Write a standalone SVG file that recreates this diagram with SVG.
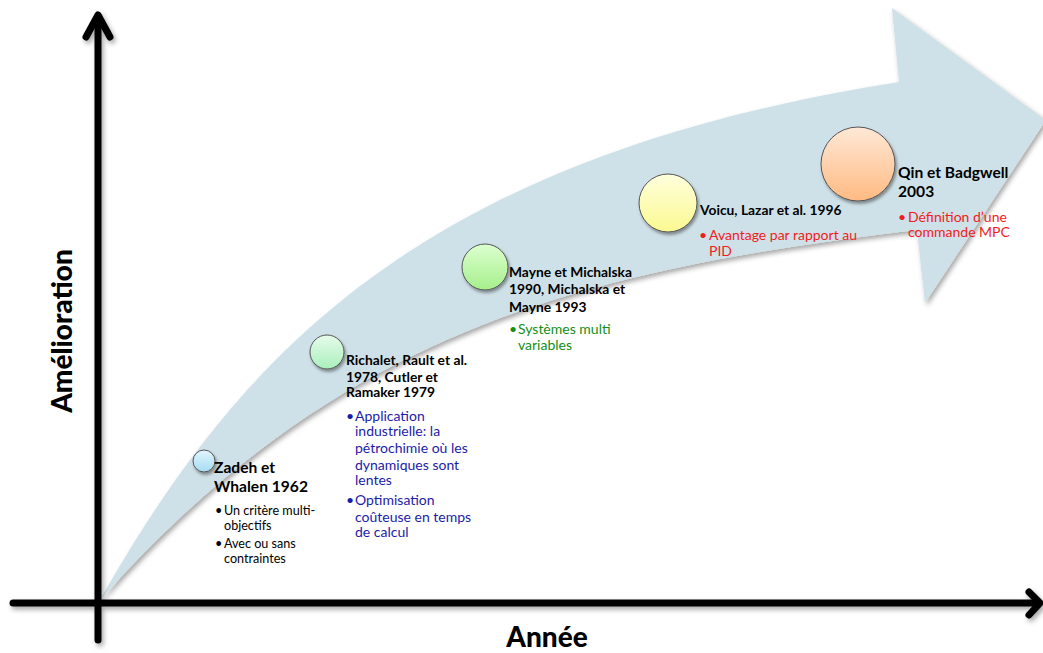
<svg xmlns="http://www.w3.org/2000/svg" width="1043" height="653" viewBox="0 0 1043 653">
<defs>
<filter id="sh" x="-10%" y="-10%" width="130%" height="130%"><feDropShadow dx="2" dy="3" stdDeviation="2.5" flood-color="#000" flood-opacity="0.35"/></filter>
<filter id="csh" x="-30%" y="-30%" width="170%" height="170%"><feDropShadow dx="1.5" dy="2.5" stdDeviation="1.8" flood-color="#000" flood-opacity="0.4"/></filter>
<linearGradient id="gBlue" x1="0" y1="0" x2="0" y2="1"><stop offset="0" stop-color="#e2f5fd"/><stop offset="1" stop-color="#a6dcf3"/></linearGradient>
<linearGradient id="gMint" x1="0" y1="0" x2="0" y2="1"><stop offset="0" stop-color="#e6fcea"/><stop offset="1" stop-color="#aaefbc"/></linearGradient>
<linearGradient id="gGreen" x1="0" y1="0" x2="0" y2="1"><stop offset="0" stop-color="#dcffcf"/><stop offset="1" stop-color="#a6ef8c"/></linearGradient>
<linearGradient id="gYellow" x1="0" y1="0" x2="0" y2="1"><stop offset="0" stop-color="#ffffdc"/><stop offset="1" stop-color="#fbf991"/></linearGradient>
<linearGradient id="gPeach" x1="0" y1="0" x2="0" y2="1"><stop offset="0" stop-color="#ffe8d6"/><stop offset="1" stop-color="#ffba82"/></linearGradient>
</defs>
<style>
.t{font-family:Lato,"Liberation Sans",sans-serif;font-weight:bold;font-size:13.8px;fill:#000}
.tb{font-size:15.6px}
.b{font-family:Lato,"Liberation Sans",sans-serif;font-size:14px}
.blk{fill:#000;font-size:12.6px}
.blu{fill:#1c1ca8}
.grn{fill:#13901a}
.red{fill:#f21c1c}
.node{stroke:#555;stroke-width:1}
.axis{fill:none;stroke:#000;stroke-width:7;stroke-linecap:round;stroke-linejoin:round}
.lab{font-family:Lato,"Liberation Sans",sans-serif;font-weight:900;font-size:28px;fill:#000}
</style>
<g id="big-arrow">
<path d="M100,600 C240,353 422,157 899,82 L892,8 L1046,120 L925,303 L917,230 C582,270 340,330 100,600 Z" fill="#cfe1e8" filter="url(#sh)"/>
</g>
<g id="connectors">
<g filter="url(#sh)">
<path class="axis" d="M98,640 V18"/>
<path class="axis" d="M86,37 L98,15 L110,37"/>
<path class="axis" d="M13,603 H1038"/>
<path class="axis" d="M1029,592 L1040,603 L1029,615"/>
</g>
</g>
<g id="label-y"><text class="lab" transform="translate(72,331) rotate(-90)" text-anchor="middle">Amélioration</text></g>
<g id="label-x"><text class="lab" x="547" y="647" text-anchor="middle">Année</text></g>
<g id="zadeh">
<circle class="node" cx="204" cy="461" r="11" fill="url(#gBlue)" filter="url(#csh)"/>
<text class="t tb" x="214" y="473">Zadeh et</text>
<text class="t tb" x="214" y="492">Whalen 1962</text>
<text class="b blk"><tspan x="215" y="515">•</tspan><tspan x="224" y="515">Un critère multi-</tspan><tspan x="224" y="530">objectifs</tspan><tspan x="215" y="548">•</tspan><tspan x="224" y="548">Avec ou sans</tspan><tspan x="224" y="563">contraintes</tspan></text>
</g>
<g id="richalet">
<circle class="node" cx="327" cy="352" r="17" fill="url(#gMint)" filter="url(#csh)"/>
<text class="t" x="346" y="365">Richalet, Rault et al.</text>
<text class="t" x="346" y="382">1978, Cutler et</text>
<text class="t" x="346" y="397">Ramaker 1979</text>
<text class="b blu"><tspan x="346" y="421">•</tspan><tspan x="355" y="421">Application</tspan><tspan x="355" y="436">industrielle: la</tspan><tspan x="355" y="453">pétrochimie où les</tspan><tspan x="355" y="470">dynamiques sont</tspan><tspan x="355" y="485">lentes</tspan><tspan x="346" y="505">•</tspan><tspan x="355" y="505">Optimisation</tspan><tspan x="355" y="522">coûteuse en temps</tspan><tspan x="355" y="537">de calcul</tspan></text>
</g>
<g id="mayne">
<circle class="node" cx="485" cy="267" r="23" fill="url(#gGreen)" filter="url(#csh)"/>
<text class="t" x="509" y="277">Mayne et Michalska</text>
<text class="t" x="509" y="294">1990, Michalska et</text>
<text class="t" x="509" y="312">Mayne 1993</text>
<text class="b grn"><tspan x="509" y="334">•</tspan><tspan x="518" y="334">Systèmes multi</tspan><tspan x="518" y="350">variables</tspan></text>
</g>
<g id="voicu">
<circle class="node" cx="668" cy="203" r="29" fill="url(#gYellow)" filter="url(#csh)"/>
<text class="t" x="700" y="215">Voicu, Lazar et al. 1996</text>
<text class="b red"><tspan x="699" y="240">•</tspan><tspan x="709" y="240">Avantage par rapport au</tspan><tspan x="709" y="256">PID</tspan></text>
</g>
<g id="qin">
<circle class="node" cx="858" cy="164" r="37" fill="url(#gPeach)" filter="url(#csh)"/>
<text class="t tb" x="898" y="178">Qin et Badgwell</text>
<text class="t tb" x="898" y="197">2003</text>
<text class="b red"><tspan x="898" y="222">•</tspan><tspan x="908" y="222">Définition d’une</tspan><tspan x="908" y="237">commande MPC</tspan></text>
</g>
</svg>
